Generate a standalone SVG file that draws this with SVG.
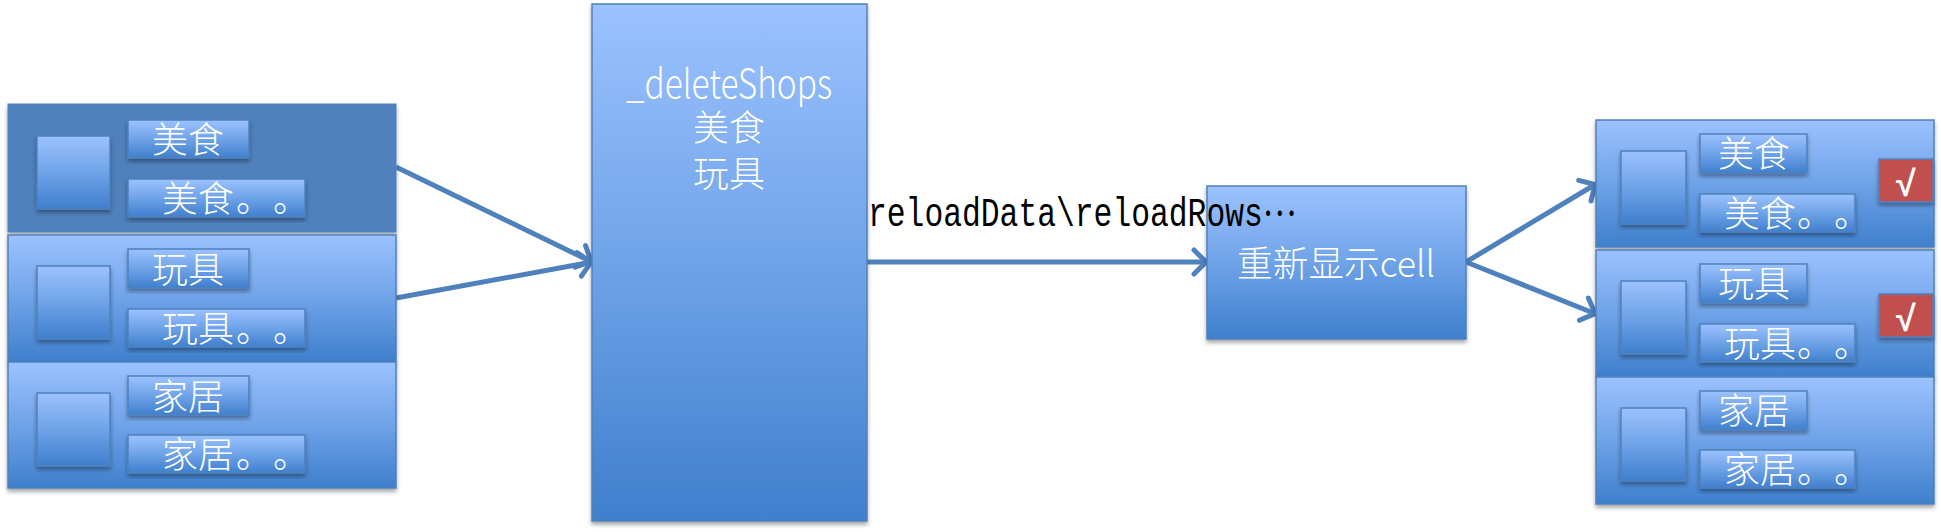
<svg xmlns="http://www.w3.org/2000/svg" width="1941" height="532" viewBox="0 0 1941 532">
<defs>
<linearGradient id="g" x1="0" y1="0" x2="0" y2="1"><stop offset="0" stop-color="#9cc2ff"/><stop offset="0.5" stop-color="#6fa3e8"/><stop offset="1" stop-color="#3f7fcd"/></linearGradient>
<filter id="s" x="-10%" y="-10%" width="120%" height="125%"><feDropShadow dx="0" dy="3" stdDeviation="2" flood-color="#000" flood-opacity="0.35"/></filter>
<marker id="a" markerUnits="userSpaceOnUse" markerWidth="24" markerHeight="32" refX="19" refY="16" orient="auto"><path d="M6 4 L18 16 L6 28" fill="none" stroke="#4f81bd" stroke-width="5" stroke-linecap="round"/></marker>
</defs>
<style>
.b{fill:url(#g);stroke:#4f81bd;stroke-width:1.5;filter:url(#s)}
.sel{fill:#4f81bd;stroke:#4f81bd;stroke-width:1;filter:url(#s)}
.red{fill:#c0504d;stroke:#4f81bd;stroke-width:1.5;filter:url(#s)}
.t{fill:#fff;font-family:"Noto Sans CJK SC","Liberation Sans",sans-serif;font-size:36px;font-weight:300;text-spacing-trim:space-all}
.n{font-size:40px}
.c{stroke:#4f81bd;stroke-width:5;fill:none;marker-end:url(#a)}
.l{fill:#000;font-family:"Liberation Mono","Noto Sans CJK SC",monospace;font-size:40px}
.e{font-family:"Noto Sans CJK SC",sans-serif}
.m{fill:#fff;font-family:"Liberation Sans",sans-serif;font-size:36px;font-weight:700}
</style>
<g id="connectors">
<line class="c" x1="396" y1="167" x2="592" y2="262"/>
<line class="c" x1="396" y1="298" x2="592" y2="262"/>
<line class="c" x1="867" y1="262" x2="1207" y2="262"/>
<line class="c" x1="1466" y1="262" x2="1596" y2="184"/>
<line class="c" x1="1466" y1="262" x2="1596" y2="314"/>
</g>
<g id="left-row-1">
<rect class="sel" x="8" y="104" width="388" height="128"/>
<rect class="b" x="37" y="136" width="73" height="73"/>
<rect class="b" x="128" y="120" width="121" height="38"/>
<text class="t" x="152" y="153">美食</text>
<rect class="b" x="128" y="179" width="177" height="38"/>
<text class="t" x="162" y="212">美食<tspan x="236">。</tspan><tspan x="273">。</tspan></text>
</g>
<g id="left-row-2">
<rect class="b" x="8" y="235" width="388" height="127"/>
<rect class="b" x="37" y="266" width="73" height="73"/>
<rect class="b" x="128" y="249" width="121" height="39"/>
<text class="t" x="152" y="283">玩具</text>
<rect class="b" x="128" y="309" width="177" height="38"/>
<text class="t" x="162" y="342">玩具<tspan x="236">。</tspan><tspan x="273">。</tspan></text>
</g>
<g id="left-row-3">
<rect class="b" x="8" y="362" width="388" height="126"/>
<rect class="b" x="37" y="393" width="73" height="73"/>
<rect class="b" x="128" y="376" width="121" height="39"/>
<text class="t" x="152" y="410">家居</text>
<rect class="b" x="128" y="435" width="177" height="38"/>
<text class="t" x="162" y="468">家居<tspan x="236">。</tspan><tspan x="273">。</tspan></text>
</g>
<g id="delete-shops">
<rect class="b" x="592" y="4" width="275" height="517"/>
<text class="t n" x="626" y="98" textLength="206" lengthAdjust="spacingAndGlyphs">_deleteShops</text>
<text class="t" x="729" y="141" text-anchor="middle">美食</text>
<text class="t" x="729" y="187" text-anchor="middle">玩具</text>
</g>
<g id="redisplay">
<rect class="b" x="1207" y="186" width="259" height="153"/>
<text class="t" x="1237" y="277" textLength="198" lengthAdjust="spacingAndGlyphs">重新显示cell</text>
</g>
<text id="connector-label" class="l" x="868" y="226" textLength="428" lengthAdjust="spacingAndGlyphs">reloadData\reloadRows<tspan class="e" dy="-11">…</tspan></text>
<g id="right-row-1">
<rect class="b" x="1596" y="120" width="338" height="127"/>
<rect class="b" x="1621" y="151" width="65" height="73"/>
<rect class="b" x="1700" y="134" width="107" height="39"/>
<text class="t" x="1718" y="167">美食</text>
<rect class="b" x="1700" y="194" width="155" height="38"/>
<text class="t" x="1724" y="227">美食<tspan x="1797">。</tspan><tspan x="1834">。</tspan></text>
<rect class="red" x="1879" y="159" width="54" height="43"/>
<text class="m" x="1906" y="196" text-anchor="middle">√</text>
</g>
<g id="right-row-2">
<rect class="b" x="1596" y="250" width="338" height="127"/>
<rect class="b" x="1621" y="281" width="65" height="73"/>
<rect class="b" x="1700" y="264" width="107" height="39"/>
<text class="t" x="1718" y="297">玩具</text>
<rect class="b" x="1700" y="324" width="155" height="38"/>
<text class="t" x="1724" y="357">玩具<tspan x="1797">。</tspan><tspan x="1834">。</tspan></text>
<rect class="red" x="1879" y="294" width="54" height="43"/>
<text class="m" x="1906" y="331" text-anchor="middle">√</text>
</g>
<g id="right-row-3">
<rect class="b" x="1596" y="377" width="338" height="127"/>
<rect class="b" x="1621" y="408" width="65" height="73"/>
<rect class="b" x="1700" y="391" width="107" height="39"/>
<text class="t" x="1718" y="424">家居</text>
<rect class="b" x="1700" y="450" width="155" height="38"/>
<text class="t" x="1724" y="483">家居<tspan x="1797">。</tspan><tspan x="1834">。</tspan></text>
</g>
</svg>
